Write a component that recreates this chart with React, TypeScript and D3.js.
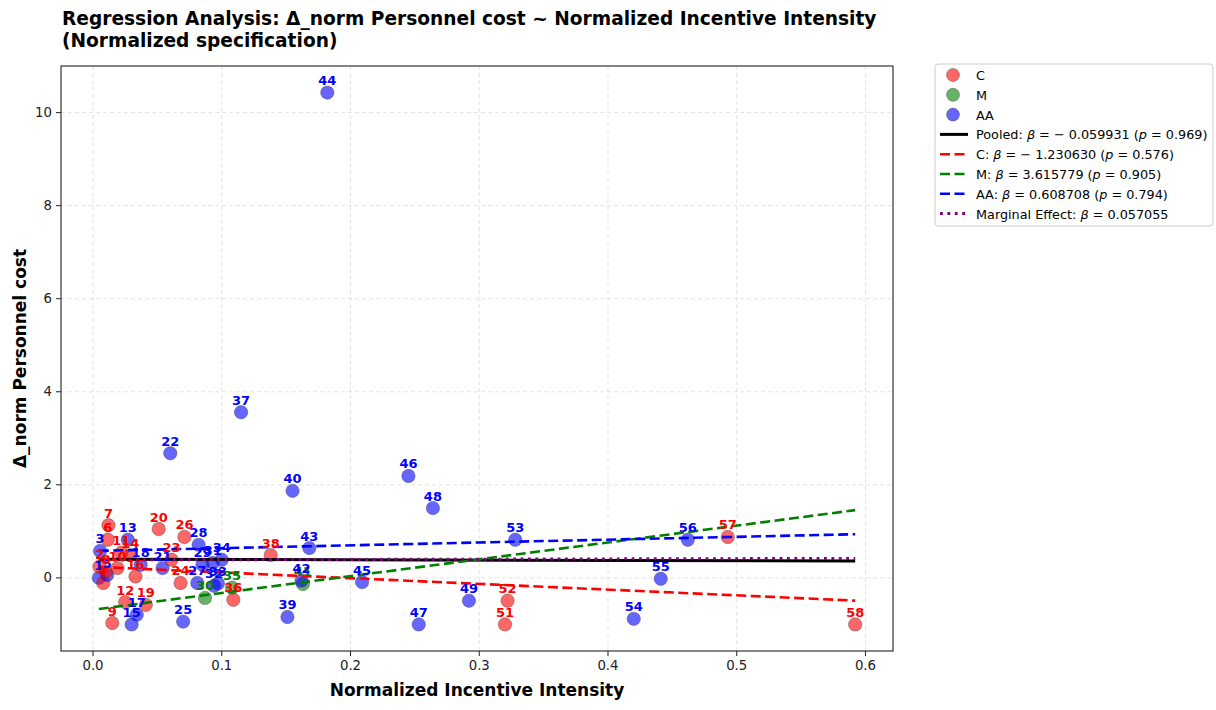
import React from "react";
import * as d3 from "d3";

const groups = ["C", "M", "AA"];
const groupColors = ["#ff0000", "#008000", "#0000ff"];

const pointIds = [1, 2, 3, 4, 5, 6, 7, 8, 9, 10, 11, 12, 13, 14, 15, 16, 17, 18, 19, 20, 21, 22, 23, 24, 25, 26, 27, 28, 29, 30, 31, 32, 33, 34, 35, 36, 37, 38, 39, 40, 41, 42, 43, 44, 45, 46, 47, 48, 49, 51, 52, 53, 54, 55, 56, 57, 58];
const pointGroups = ["AA", "C", "AA", "C", "AA", "C", "C", "C", "C", "C", "C", "C", "AA", "C", "AA", "C", "AA", "AA", "C", "C", "AA", "AA", "C", "C", "AA", "C", "AA", "AA", "AA", "M", "AA", "AA", "AA", "AA", "M", "C", "AA", "C", "AA", "AA", "M", "AA", "AA", "AA", "AA", "AA", "AA", "AA", "AA", "C", "C", "AA", "AA", "AA", "AA", "C", "C"];
const xValues = [0.0045, 0.005, 0.0055, 0.008, 0.011, 0.0115, 0.012, 0.010, 0.015, 0.019, 0.022, 0.025, 0.027, 0.029, 0.030, 0.033, 0.034, 0.037, 0.041, 0.051, 0.054, 0.060, 0.061, 0.068, 0.070, 0.071, 0.081, 0.082, 0.085, 0.087, 0.093, 0.094, 0.097, 0.100, 0.108, 0.109, 0.115, 0.138, 0.151, 0.155, 0.163, 0.162, 0.168, 0.182, 0.209, 0.245, 0.253, 0.264, 0.292, 0.320, 0.322, 0.328, 0.420, 0.441, 0.462, 0.493, 0.592];
const yValues = [0.0, 0.24, 0.58, -0.11, 0.06, 0.82, 1.13, 0.13, -0.97, 0.21, 0.54, -0.52, 0.82, 0.49, -1.0, 0.03, -0.79, 0.28, -0.58, 1.05, 0.21, 2.68, 0.39, -0.11, -0.94, 0.88, -0.11, 0.71, 0.28, -0.43, 0.32, -0.17, -0.12, 0.39, -0.21, -0.47, 3.56, 0.49, -0.84, 1.87, -0.13, -0.06, 0.64, 10.43, -0.09, 2.19, -1.0, 1.5, -0.49, -1.0, -0.49, 0.82, -0.88, -0.02, 0.82, 0.88, -1.0];

const lineNames = ["Pooled", "C", "M", "AA", "Marginal Effect"];
const lineSlopes = [-0.059931, -1.23063, 3.615779, 0.608708, 0.057055];
const lineIntercepts = [0.40, 0.24, -0.685, 0.578, 0.385];
const linePValues = ["0.969", "0.576", "0.905", "0.794", ""];
const lineColors = ["#000000", "#ff0000", "#008000", "#0000ff", "#800080"];

const xTicks = [0.0, 0.1, 0.2, 0.3, 0.4, 0.5, 0.6];
const yTicks = [0, 2, 4, 6, 8, 10];

const FONT = "DejaVu Sans, sans-serif";

export default function App() {
  const left = 61, right = 893, top = 66, bottom = 651;
  const xMin = d3.min(xValues)!, xMax = d3.max(xValues)!;
  const yMin = d3.min(yValues)!, yMax = d3.max(yValues)!;
  const xPad = (xMax - xMin) * 0.05, yPad = (yMax - yMin) * 0.05;
  const x = d3.scaleLinear().domain([xMin - xPad, xMax + xPad]).range([left, right]);
  const y = d3.scaleLinear().domain([yMin - yPad, yMax + yPad]).range([bottom, top]);

  const lineGen = d3.line<[number, number]>().x((d) => x(d[0])).y((d) => y(d[1]));

  const dashes = ["", "10,4.5", "10,4.5", "10,4.5", "2.8,4.6"];
  const widths = [3, 2.6, 2.6, 2.6, 3];

  const legendX = 935, legendY = 64;
  const rowH = 19.8;

  const legendText = (i: number) => {
    if (i === 4) {
      return (
        <>
          <tspan>Marginal Effect: </tspan>
          <tspan fontStyle="italic">β</tspan>
          <tspan> = 0.057055</tspan>
        </>
      );
    }
    const b = lineSlopes[i];
    const bStr = b < 0 ? "− " + Math.abs(b).toFixed(6) : b.toFixed(6);
    return (
      <>
        <tspan>{lineNames[i]}: </tspan>
        <tspan fontStyle="italic">β</tspan>
        <tspan>{" = " + bStr + " ("}</tspan>
        <tspan fontStyle="italic">p</tspan>
        <tspan>{" = " + linePValues[i] + ")"}</tspan>
      </>
    );
  };

  return (
    <svg width={1216} height={710} style={{ position: "absolute", left: 0, top: 0, background: "#fff" }} fontFamily={FONT}>
      <rect x={0} y={0} width={1216} height={710} fill="#fff" />
      {/* title */}
      <text x={62} y={25} fontSize={18.6} fontWeight="bold" fill="#000">
        Regression Analysis: Δ_norm Personnel cost ~ Normalized Incentive Intensity
      </text>
      <text x={62} y={47} fontSize={18.6} fontWeight="bold" fill="#000">
        (Normalized specification)
      </text>

      {/* grid */}
      {xTicks.map((t) => (
        <line key={"gx" + t} x1={x(t)} x2={x(t)} y1={top} y2={bottom} stroke="#b0b0b0" strokeOpacity={0.4} strokeDasharray="4,3" strokeWidth={0.9} />
      ))}
      {yTicks.map((t) => (
        <line key={"gy" + t} x1={left} x2={right} y1={y(t)} y2={y(t)} stroke="#b0b0b0" strokeOpacity={0.4} strokeDasharray="4,3" strokeWidth={0.9} />
      ))}

      {/* points */}
      {pointIds.map((id, i) => {
        const gi = groups.indexOf(pointGroups[i]);
        return (
          <circle key={"p" + id} cx={x(xValues[i])} cy={y(yValues[i])} r={6.7} fill={groupColors[gi]} fillOpacity={0.6} stroke="#444" strokeOpacity={0.7} strokeWidth={0.6} />
        );
      })}

      {/* regression lines */}
      {lineNames.map((n, i) => {
        const pts: [number, number][] = [xMin, xMax].map((xv) => [xv, lineIntercepts[i] + lineSlopes[i] * xv]);
        return (
          <path key={"l" + n} d={lineGen(pts)!} fill="none" stroke={lineColors[i]} strokeWidth={widths[i]} strokeDasharray={dashes[i] || undefined} />
        );
      })}

      {/* point labels */}
      {pointIds.map((id, i) => {
        const gi = groups.indexOf(pointGroups[i]);
        return (
          <text key={"t" + id} x={x(xValues[i])} y={y(yValues[i]) - 7.5} fontSize={13} fontWeight="bold" fill={groupColors[gi]} textAnchor="middle">
            {id}
          </text>
        );
      })}

      {/* axes frame */}
      <rect x={left} y={top} width={right - left} height={bottom - top} fill="none" stroke="#222" strokeWidth={1.1} />
      {xTicks.map((t) => (
        <g key={"xt" + t}>
          <line x1={x(t)} x2={x(t)} y1={bottom} y2={bottom + 5} stroke="#222" strokeWidth={1} />
          <text x={x(t)} y={bottom + 19} fontSize={13.3} textAnchor="middle" fill="#222">{t.toFixed(1)}</text>
        </g>
      ))}
      {yTicks.map((t) => (
        <g key={"yt" + t}>
          <line x1={left - 5} x2={left} y1={y(t)} y2={y(t)} stroke="#222" strokeWidth={1} />
          <text x={left - 9} y={y(t) + 4.5} fontSize={13.3} textAnchor="end" fill="#222">{t}</text>
        </g>
      ))}
      <text x={(left + right) / 2} y={696} fontSize={17} fontWeight="bold" textAnchor="middle" fill="#000">
        Normalized Incentive Intensity
      </text>
      <text transform={`translate(26,${(top + bottom) / 2}) rotate(-90)`} fontSize={17} fontWeight="bold" textAnchor="middle" fill="#000">
        Δ_norm Personnel cost
      </text>

      {/* legend */}
      <rect x={legendX} y={legendY} width={278} height={162} rx={3} fill="#fff" fillOpacity={0.8} stroke="#cccccc" strokeWidth={1} />
      {groups.map((g, i) => (
        <g key={"lg" + g}>
          <circle cx={953} cy={legendY + 11 + i * rowH} r={6.5} fill={groupColors[i]} fillOpacity={0.6} stroke="#444" strokeOpacity={0.7} strokeWidth={0.6} />
          <text x={976} y={legendY + 16 + i * rowH} fontSize={12.8} fill="#000">{g}</text>
        </g>
      ))}
      {lineNames.map((n, i) => {
        const cy = legendY + 11 + (i + 3) * rowH;
        return (
          <g key={"ll" + n}>
            <line x1={940} x2={968} y1={cy} y2={cy} stroke={lineColors[i]} strokeWidth={widths[i]} strokeDasharray={dashes[i] || undefined} />
            <text x={976} y={cy + 5} fontSize={12.8} fill="#000">{legendText(i)}</text>
          </g>
        );
      })}
    </svg>
  );
}
